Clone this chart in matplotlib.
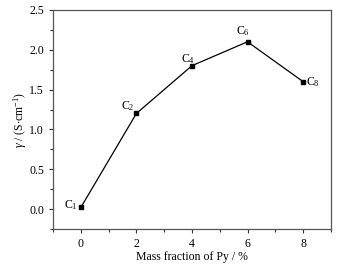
import matplotlib
matplotlib.use("Agg")
import matplotlib.pyplot as plt
from matplotlib.ticker import MultipleLocator

plt.rcParams['font.family'] = ['Liberation Serif', 'DejaVu Serif']
plt.rcParams['mathtext.fontset'] = 'custom'
plt.rcParams['mathtext.rm'] = 'Liberation Serif'
plt.rcParams['mathtext.it'] = 'Liberation Serif:italic'

mass_fraction = [0, 2, 4, 6, 8]
conductivity = [0.02, 1.2, 1.8, 2.1, 1.6]
labels = ['C$_1$', 'C$_2$', 'C$_4$', 'C$_6$', 'C$_8$']
offsets = [(-7, 1.5), (-6, 5), (-3, 5), (-3, 8), (7, 0)]

fig = plt.figure(figsize=(3.49, 2.68), dpi=100)
ax = fig.add_axes([0.152, 0.1455, 0.796, 0.8175])
ax.plot(mass_fraction, conductivity, color='black', lw=0.9, marker='s', ms=3.2)
for x, y, lab, off in zip(mass_fraction, conductivity, labels, offsets):
    ax.annotate(lab, (x, y), xytext=off, textcoords='offset points',
                ha='center', va='center', fontsize=8.5)

ax.set_xlim(-1, 9)
ax.set_ylim(-0.25, 2.5)
ax.xaxis.set_major_locator(MultipleLocator(2))
ax.xaxis.set_minor_locator(MultipleLocator(1))
ax.yaxis.set_major_locator(MultipleLocator(0.5))
ax.yaxis.set_minor_locator(MultipleLocator(0.25))
ax.tick_params(which='major', direction='out', length=3, width=0.8, labelsize=8.5, color='#333333')
ax.tick_params(which='minor', direction='out', length=2, width=0.8, color='#333333')
ax.set_xticks([0, 2, 4, 6, 8])
ax.set_xticklabels(['0', '2', '4', '6', '8'])
ax.set_yticks([0.0, 0.5, 1.0, 1.5, 2.0, 2.5])
ax.set_yticklabels(['0.0', '0.5', '1.0', '1.5', '2.0', '2.5'])
for s in ax.spines.values():
    s.set_color('#555555')
    s.set_linewidth(0.9)
ax.set_xlabel('Mass fraction of Py / %', fontsize=8.5, labelpad=1)
ax.set_ylabel(r'$\gamma$ / (S$\cdot$cm$^{-1}$)', fontsize=8.5, labelpad=0)

fig.savefig('out.png', dpi=100)
